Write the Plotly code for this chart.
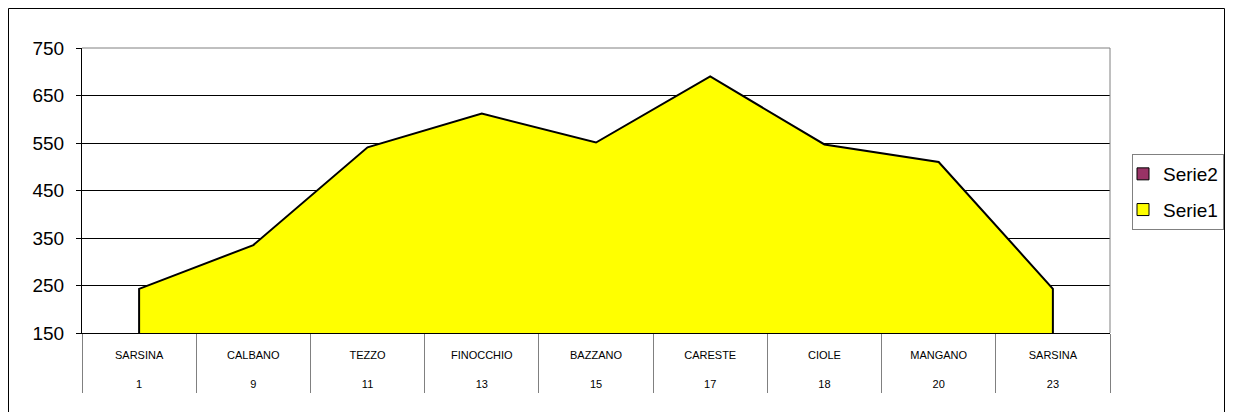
import plotly.graph_objects as go

# ---- data ----
places = ["SARSINA", "CALBANO", "TEZZO", "FINOCCHIO", "BAZZANO", "CARESTE", "CIOLE", "MANGANO", "SARSINA"]
km = ["1", "9", "11", "13", "15", "17", "18", "20", "23"]
serie1 = [243, 335, 541, 612, 551, 690, 547, 510, 243]
y_ticks = [150, 250, 350, 450, 550, 650, 750]

FONT = "Arial, Liberation Sans, sans-serif"
n = len(places)
idx = list(range(n))
y_min, y_max = y_ticks[0], y_ticks[-1]

fig = go.Figure()

# area (closed polygon down to the axis minimum so outline has vertical edges)
fig.add_trace(go.Scatter(
    x=[idx[0]] + idx + [idx[-1]],
    y=[y_min] + serie1 + [y_min],
    mode="lines", fill="toself", fillcolor="#FFFF00",
    line=dict(color="#000000", width=2),
    showlegend=False, hoverinfo="skip",
))

# legend entries
fig.add_trace(go.Bar(x=[None], y=[None], name="Serie2", legendgroup="s2",
                     marker=dict(color="#993366", line=dict(color="#000000", width=1))))
fig.add_trace(go.Bar(x=[None], y=[None], name="Serie1", legendgroup="s1",
                     marker=dict(color="#FFFF00", line=dict(color="#000000", width=1))))

# figure sits 8px inside the page (body margin)
W, H = 1217, 412
L, R, T, B = 74, 115, 40, 87
pw, ph = W - L - R, H - T - B

def px2x(p):
    return (p - L) / pw

def px2y(p):
    return (H - B - p) / ph

fig.update_layout(
    width=W, height=H,
    margin=dict(l=L, r=R, t=T, b=B, autoexpand=False),
    paper_bgcolor="white", plot_bgcolor="white",
    font=dict(family=FONT, color="#000000"),
    showlegend=True,
    legend=dict(
        x=px2x(1124), y=px2y(146), xanchor="left", yanchor="top",
        bordercolor="#808080", borderwidth=1, bgcolor="white",
        font=dict(family=FONT, size=19, color="#000000"),
        traceorder="grouped", tracegroupgap=8, indentation=-10,
    ),
    xaxis=dict(
        range=[-0.5, n - 0.5],
        tickmode="array", tickvals=idx,
        ticktext=[f"{p}<br><br>{k}" for p, k in zip(places, km)],
        ticks="", ticklen=0,
        tickfont=dict(family=FONT, size=11, color="#000000"),
        ticklabelstandoff=12,
        minor=dict(tickmode="array", tickvals=[i - 0.5 for i in range(n + 1)],
                   ticks="outside", ticklen=59, tickcolor="#808080", tickwidth=1, showgrid=False),
        showline=True, linecolor="#000000", linewidth=1,
        showgrid=False, zeroline=False, fixedrange=True,
    ),
    yaxis=dict(
        range=[y_min, y_max],
        tickmode="array", tickvals=y_ticks,
        ticks="outside", ticklen=5, tickcolor="#000000", tickwidth=1,
        tickfont=dict(family=FONT, size=19, color="#000000"),
        ticklabelstandoff=8,
        showline=True, linecolor="#000000", linewidth=1,
        showgrid=True, gridcolor="#000000", gridwidth=1,
        zeroline=False, fixedrange=True,
    ),
    bargap=0,
    shapes=[
        # plot area border (top and right, gray)
        dict(type="line", xref="paper", yref="paper", x0=0, x1=1, y0=1, y1=1,
             line=dict(color="#808080", width=1), layer="above"),
        dict(type="line", xref="paper", yref="paper", x0=1, x1=1, y0=0, y1=1,
             line=dict(color="#808080", width=1), layer="above"),
        # outer chart border along the paper edge
        dict(type="rect", xref="paper", yref="paper",
             x0=px2x(0.5), x1=px2x(W - 0.5), y0=px2y(0.5), y1=px2y(H - 0.5),
             line=dict(color="#000000", width=1), fillcolor="rgba(0,0,0,0)", layer="below"),
    ],
)

fig.write_html("out.html")
